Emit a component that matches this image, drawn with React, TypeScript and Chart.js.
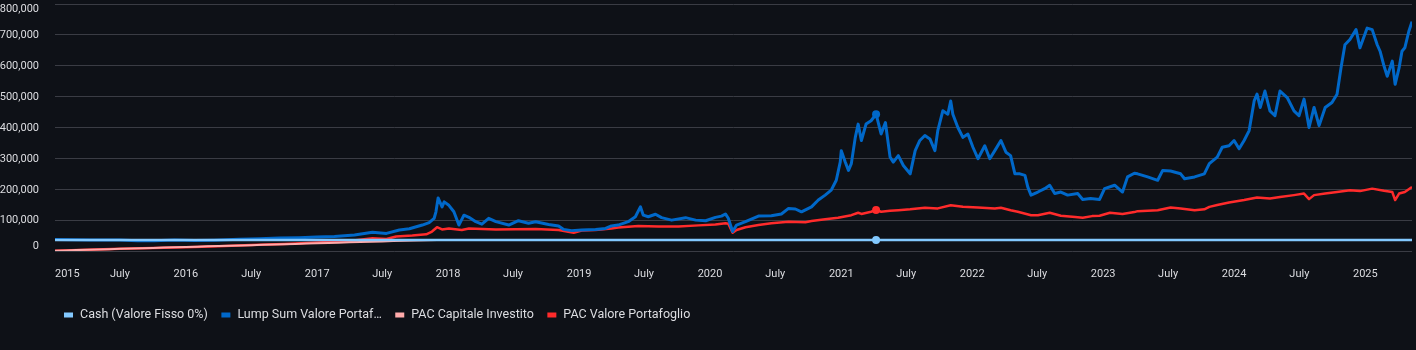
import React, { useEffect, useRef } from "react";
import { Chart, registerables } from "chart.js";

Chart.register(...registerables);

const BG = "#0e1117";
const GRID = "#3a3c44";
const LABEL = "#dcdde1";
const FONT = "Roboto, 'Liberation Sans', sans-serif";

const seriesNames = [
  "Cash (Valore Fisso 0%)",
  "Lump Sum Valore Portafoglio",
  "PAC Capitale Investito",
  "PAC Valore Portafoglio",
];
const legendLabels = [
  "Cash (Valore Fisso 0%)",
  "Lump Sum Valore Portaf\u2026",
  "PAC Capitale Investito",
  "PAC Valore Portafoglio",
];
const seriesColors = ["#83c9ff", "#0068c9", "#ffabab", "#ff2b2b"];

const yTicks = [0, 100000, 200000, 300000, 400000, 500000, 600000, 700000, 800000];

const xTickDates = [
  "2015-01-01", "2015-07-01", "2016-01-01", "2016-07-01", "2017-01-01", "2017-07-01",
  "2018-01-01", "2018-07-01", "2019-01-01", "2019-07-01", "2020-01-01", "2020-07-01",
  "2021-01-01", "2021-07-01", "2022-01-01", "2022-07-01", "2023-01-01", "2023-07-01",
  "2024-01-01", "2024-07-01", "2025-01-01",
];
const xTickLabels = [
  "2015", "July", "2016", "July", "2017", "July", "2018", "July", "2019", "July", "2020",
  "July", "2021", "July", "2022", "July", "2023", "July", "2024", "July", "2025",
];

const startDate = "2015-01-01";
const endDate = "2025-05-11";

const cashDates = ["2015-01-01", "2025-05-11"];
const cashValues = [36000, 36000];

const capitalDates = [
  "2015-01-01", "2015-02-01", "2015-03-01", "2015-04-01", "2015-05-01", "2015-06-01",
  "2015-07-01", "2015-08-01", "2015-09-01", "2015-10-01", "2015-11-01", "2015-12-01",
  "2016-01-01", "2016-02-01", "2016-03-01", "2016-04-01", "2016-05-01", "2016-06-01",
  "2016-07-01", "2016-08-01", "2016-09-01", "2016-10-01", "2016-11-01", "2016-12-01",
  "2017-01-01", "2017-02-01", "2017-03-01", "2017-04-01", "2017-05-01", "2017-06-01",
  "2017-07-01", "2017-08-01", "2017-09-01", "2017-10-01", "2017-11-01", "2017-12-01",
  "2025-05-11",
];
const capitalValues = [
  1000, 2000, 3000, 4000, 5000, 6000, 7000, 8000, 9000, 10000, 11000, 12000,
  13000, 14000, 15000, 16000, 17000, 18000, 19000, 20000, 21000, 22000, 23000, 24000,
  25000, 26000, 27000, 28000, 29000, 30000, 31000, 32000, 33000, 34000, 35000, 36000,
  36000,
];

const lumpDates = [
  "2015-01-01", "2015-04-08", "2015-06-30", "2015-08-19", "2015-10-05", "2015-11-30",
  "2016-01-25", "2016-03-20", "2016-05-28", "2016-07-24", "2016-09-18", "2016-11-12",
  "2016-12-30", "2017-02-18", "2017-04-15", "2017-06-04", "2017-07-13", "2017-08-18",
  "2017-09-15", "2017-10-21", "2017-11-09", "2017-11-23", "2017-11-28", "2017-12-04",
  "2017-12-15", "2017-12-21", "2018-01-03", "2018-01-17", "2018-01-31", "2018-02-14",
  "2018-02-28", "2018-03-19", "2018-04-05", "2018-04-24", "2018-05-14", "2018-06-19",
  "2018-07-16", "2018-08-13", "2018-09-02", "2018-10-08", "2018-11-05", "2018-11-19",
  "2018-12-11", "2019-01-08", "2019-02-16", "2019-03-16", "2019-04-01", "2019-04-20",
  "2019-05-18", "2019-06-07", "2019-06-21", "2019-06-29", "2019-07-13", "2019-08-02",
  "2019-08-19", "2019-09-16", "2019-10-25", "2019-11-22", "2019-12-20", "2020-01-16",
  "2020-02-02", "2020-02-13", "2020-02-21", "2020-03-04", "2020-03-15", "2020-04-09",
  "2020-05-15", "2020-06-20", "2020-07-18", "2020-08-07", "2020-08-26", "2020-09-12",
  "2020-10-10", "2020-10-29", "2020-11-17", "2020-12-04", "2020-12-18", "2020-12-29",
  "2021-01-01", "2021-01-12", "2021-01-21", "2021-01-29", "2021-02-09", "2021-02-17",
  "2021-02-26", "2021-03-11", "2021-03-25", "2021-04-08", "2021-04-22", "2021-05-04",
  "2021-05-17", "2021-05-26", "2021-06-09", "2021-06-23", "2021-07-12", "2021-07-26",
  "2021-08-08", "2021-08-22", "2021-09-05", "2021-09-19", "2021-09-27", "2021-10-11",
  "2021-10-25", "2021-11-02", "2021-11-08", "2021-11-22", "2021-12-06", "2021-12-20",
  "2022-01-03", "2022-01-17", "2022-02-05", "2022-02-19", "2022-03-05", "2022-03-22",
  "2022-04-05", "2022-04-18", "2022-04-30", "2022-05-14", "2022-05-28", "2022-06-05",
  "2022-06-14", "2022-07-03", "2022-07-22", "2022-08-05", "2022-08-19", "2022-09-05",
  "2022-09-24", "2022-10-22", "2022-11-05", "2022-11-27", "2022-12-22", "2023-01-05",
  "2023-02-02", "2023-02-24", "2023-03-10", "2023-03-29", "2023-04-07", "2023-05-05",
  "2023-06-02", "2023-06-16", "2023-07-08", "2023-08-05", "2023-08-16", "2023-09-13",
  "2023-10-10", "2023-10-24", "2023-11-15", "2023-11-29", "2023-12-18", "2024-01-01",
  "2024-01-15", "2024-01-29", "2024-02-12", "2024-02-26", "2024-03-05", "2024-03-14",
  "2024-03-27", "2024-04-10", "2024-04-24", "2024-05-08", "2024-05-28", "2024-06-16",
  "2024-06-30", "2024-07-14", "2024-07-28", "2024-08-11", "2024-08-25", "2024-09-11",
  "2024-09-30", "2024-10-14", "2024-10-25", "2024-11-05", "2024-11-19", "2024-12-06",
  "2024-12-17", "2025-01-06", "2025-01-20", "2025-02-03", "2025-02-11", "2025-02-22",
  "2025-03-03", "2025-03-17", "2025-03-25", "2025-04-05", "2025-04-13", "2025-04-21",
  "2025-05-02", "2025-05-11",
];
const lumpValues = [
  37000, 36000, 36000, 33000, 33000, 36000,
  34000, 35000, 38000, 40000, 42000, 43000,
  45000, 47000, 52000, 61000, 57000, 68000,
  72000, 84000, 92000, 106000, 127000, 172000,
  143000, 159000, 148000, 127000, 84000, 116000,
  109000, 95000, 87000, 106000, 95000, 84000,
  98000, 90000, 95000, 86000, 81000, 70000,
  66000, 68000, 70000, 73000, 81000, 84000,
  95000, 111000, 143000, 116000, 111000, 119000,
  108000, 100000, 108000, 100000, 98000, 109000,
  113000, 120000, 106000, 63000, 84000, 95000,
  113000, 114000, 120000, 138000, 136000, 127000,
  143000, 165000, 181000, 197000, 229000, 288000,
  325000, 288000, 261000, 283000, 368000, 411000,
  358000, 411000, 422000, 443000, 379000, 416000,
  304000, 288000, 309000, 277000, 250000, 325000,
  358000, 374000, 363000, 325000, 390000, 454000,
  443000, 486000, 443000, 400000, 368000, 379000,
  336000, 299000, 341000, 299000, 325000, 358000,
  320000, 309000, 250000, 250000, 245000, 207000,
  181000, 191000, 202000, 213000, 186000, 191000,
  181000, 186000, 167000, 170000, 167000, 202000,
  213000, 191000, 240000, 252000, 250000, 240000,
  229000, 261000, 259000, 250000, 234000, 240000,
  250000, 283000, 304000, 336000, 341000, 358000,
  331000, 358000, 390000, 486000, 508000, 465000,
  518000, 454000, 438000, 518000, 497000, 454000,
  438000, 492000, 400000, 465000, 406000, 465000,
  481000, 508000, 593000, 668000, 685000, 717000,
  658000, 722000, 717000, 668000, 647000, 599000,
  566000, 615000, 540000, 593000, 647000, 658000,
  711000, 743000,
];

const pacDates = [
  "2015-01-01", "2015-04-01", "2015-07-01", "2015-10-01", "2016-01-01", "2016-04-01",
  "2016-07-01", "2016-10-01", "2017-01-01", "2017-04-01", "2017-06-04", "2017-07-13",
  "2017-08-09", "2017-09-23", "2017-11-01", "2017-11-17", "2017-12-01", "2017-12-15",
  "2018-01-03", "2018-02-08", "2018-02-28", "2018-05-14", "2018-09-02", "2018-11-05",
  "2018-12-17", "2019-01-08", "2019-02-16", "2019-04-01", "2019-04-20", "2019-06-15",
  "2019-08-10", "2019-10-05", "2019-11-30", "2020-01-16", "2020-02-13", "2020-02-21",
  "2020-03-04", "2020-03-15", "2020-04-09", "2020-05-15", "2020-06-20", "2020-08-07",
  "2020-09-23", "2020-10-10", "2020-11-17", "2020-12-23", "2021-01-29", "2021-02-17",
  "2021-02-26", "2021-03-25", "2021-04-08", "2021-04-22", "2021-05-17", "2021-06-09",
  "2021-07-12", "2021-08-22", "2021-09-27", "2021-11-02", "2021-12-06", "2022-01-17",
  "2022-03-05", "2022-03-22", "2022-04-18", "2022-05-08", "2022-06-14", "2022-07-03",
  "2022-08-05", "2022-09-05", "2022-10-15", "2022-11-05", "2022-12-01", "2022-12-22",
  "2023-01-20", "2023-02-24", "2023-03-29", "2023-04-07", "2023-06-02", "2023-07-08",
  "2023-08-05", "2023-09-13", "2023-10-10", "2023-10-24", "2023-11-15", "2023-12-18",
  "2024-01-29", "2024-03-05", "2024-04-10", "2024-05-08", "2024-06-16", "2024-07-14",
  "2024-07-28", "2024-08-11", "2024-09-11", "2024-10-14", "2024-11-19", "2024-12-17",
  "2025-01-20", "2025-02-22", "2025-03-17", "2025-03-25", "2025-04-05", "2025-04-21",
  "2025-05-11",
];
const pacValues = [
  1000, 4000, 7000, 9500, 12500, 15500,
  19500, 23000, 27500, 32500, 41000, 39000,
  47000, 50000, 54000, 63000, 77000, 70000,
  73000, 68000, 73000, 70000, 71000, 68000,
  59000, 66000, 68000, 73000, 76000, 81000,
  79000, 79000, 83000, 86000, 90000, 88000,
  59000, 68000, 77000, 84000, 90000, 95000,
  93000, 97000, 103000, 108000, 116000, 124000,
  120000, 127000, 133000, 127000, 130000, 132000,
  135000, 140000, 138000, 148000, 143000, 141000,
  138000, 140000, 132000, 127000, 116000, 116000,
  124000, 114000, 110000, 108000, 113000, 114000,
  124000, 120000, 126000, 129000, 132000, 141000,
  138000, 132000, 135000, 143000, 149000, 157000,
  165000, 173000, 170000, 175000, 181000, 186000,
  168000, 181000, 186000, 191000, 197000, 194000,
  202000, 195000, 191000, 165000, 186000, 191000,
  207000,
];

const hoverDate = "2021-04-08";
const hoverValues = [36000, 443000, 133000];
const hoverColors = ["#83c9ff", "#0068c9", "#ff2b2b"];

const toPoints = (dates: string[], values: number[]) =>
  dates.map((d, i) => ({ x: Date.parse(d), y: values[i] }));

const fmt = (v: number) => v.toLocaleString("en-US");

const customPlugin = {
  id: "customAxesLegend",
  afterDraw(chart: any) {
    const ctx = chart.ctx as CanvasRenderingContext2D;
    const xs = chart.scales.x;
    const ys = chart.scales.y;
    const area = chart.chartArea;
    ctx.save();
    ctx.fillStyle = LABEL;
    ctx.font = `11px ${FONT}`;
    ctx.textAlign = "right";
    const yMax = yTicks[yTicks.length - 1];
    yTicks.forEach((v) => {
      const py = ys.getPixelForValue(v);
      if (v === yMax) {
        ctx.textBaseline = "top";
        ctx.fillText(fmt(v), area.left - 16, py);
      } else if (v === 0) {
        ctx.textBaseline = "alphabetic";
        ctx.fillText(fmt(v), area.left - 16, py - 2);
      } else {
        ctx.textBaseline = "middle";
        ctx.fillText(fmt(v), area.left - 16, py + 0.5);
      }
    });
    ctx.textBaseline = "alphabetic";
    xTickDates.forEach((d, i) => {
      const px = xs.getPixelForValue(Date.parse(d));
      ctx.textAlign = i === 0 ? "left" : "center";
      ctx.fillText(xTickLabels[i], px, area.bottom + 26);
    });
    // legend
    ctx.font = `12.5px ${FONT}`;
    ctx.textAlign = "left";
    ctx.textBaseline = "middle";
    let lx = 64;
    const ly = 315;
    legendLabels.forEach((label, i) => {
      ctx.fillStyle = seriesColors[i];
      ctx.fillRect(lx, ly - 2.5, 9, 5);
      ctx.fillStyle = LABEL;
      ctx.fillText(label, lx + 16, ly);
      lx += 16 + ctx.measureText(label).width + 13.5;
    });
    ctx.restore();
  },
};

export default function App() {
  const ref = useRef<HTMLCanvasElement>(null);
  useEffect(() => {
    document.body.style.margin = "0";
    document.body.style.background = BG;
    const chart = new Chart(ref.current as HTMLCanvasElement, {
      type: "line",
      data: {
        datasets: [
          {
            label: seriesNames[0],
            data: toPoints(cashDates, cashValues),
            borderColor: seriesColors[0],
            backgroundColor: seriesColors[0],
            borderWidth: 2.5,
            order: 1,
          },
          {
            label: seriesNames[1],
            data: toPoints(lumpDates, lumpValues),
            borderColor: seriesColors[1],
            backgroundColor: seriesColors[1],
            borderWidth: 3,
            borderJoinStyle: "round",
            order: 2,
          },
          {
            label: seriesNames[2],
            data: toPoints(capitalDates, capitalValues),
            borderColor: seriesColors[2],
            backgroundColor: seriesColors[2],
            borderWidth: 2,
            order: 3,
          },
          {
            label: seriesNames[3],
            data: toPoints(pacDates, pacValues),
            borderColor: seriesColors[3],
            backgroundColor: seriesColors[3],
            borderWidth: 2.5,
            borderJoinStyle: "round",
            order: 4,
          },
          {
            label: "hover",
            data: hoverValues.map((v) => ({ x: Date.parse(hoverDate), y: v })),
            showLine: false,
            pointRadius: 4,
            pointBackgroundColor: hoverColors,
            pointBorderWidth: 0,
            order: 0,
          } as any,
        ],
      },
      options: {
        responsive: false,
        animation: false,
        events: [],
        layout: { padding: { top: 2, right: 1, bottom: 99, left: 0 } },
        elements: {
          line: { tension: 0 },
          point: { radius: 0 },
        },
        plugins: {
          legend: { display: false },
          tooltip: { enabled: false },
        },
        scales: {
          x: {
            type: "linear",
            display: false,
            min: Date.parse(startDate),
            max: Date.parse(endDate),
          },
          y: {
            min: 0,
            max: yTicks[yTicks.length - 1],
            afterBuildTicks: (s: any) => {
              s.ticks = yTicks.map((v) => ({ value: v }));
            },
            afterFit: (s: any) => {
              s.width = 55;
            },
            ticks: { display: false },
            border: { display: false },
            grid: { color: GRID, lineWidth: 1, drawTicks: false },
          },
        },
      },
      plugins: [customPlugin],
    });
    return () => chart.destroy();
  }, []);
  return (
    <div style={{ width: 1416, height: 350, background: BG }}>
      <canvas ref={ref} width={1416} height={350} style={{ display: "block" }} />
    </div>
  );
}
